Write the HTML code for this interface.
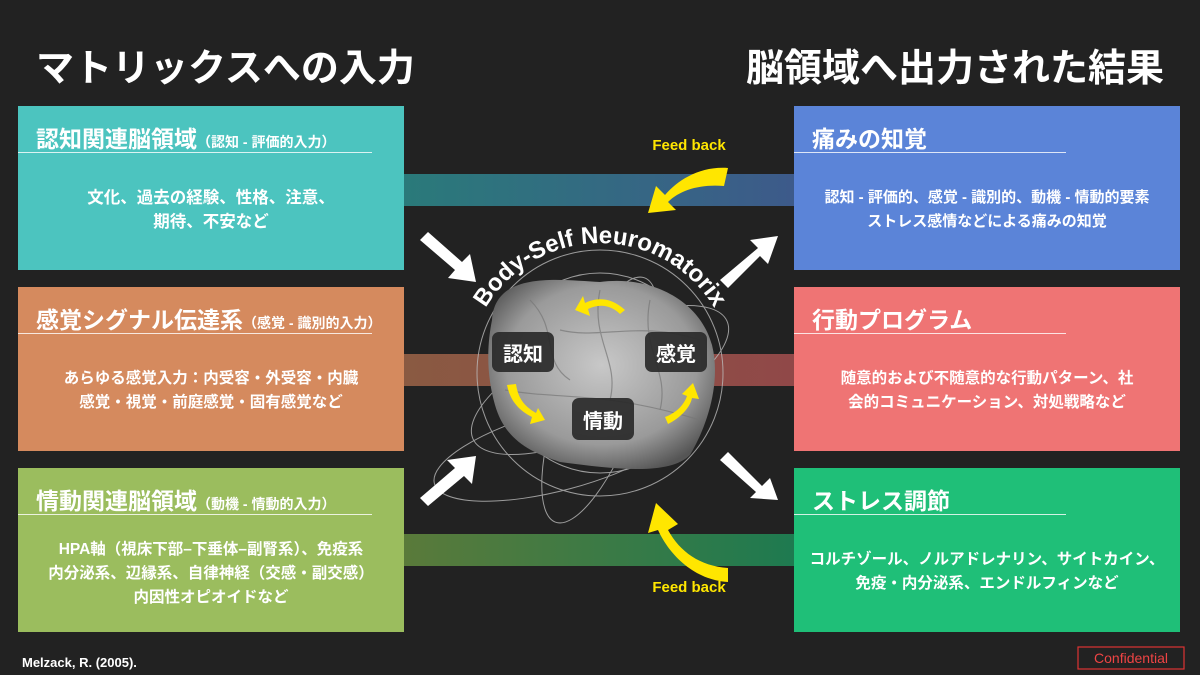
<!DOCTYPE html>
<html><head><meta charset="utf-8"><style>
body{margin:0;background:#222;}
#c{position:relative;width:1200px;height:675px;background:#222;overflow:hidden;font-family:"Liberation Sans","Noto Sans CJK JP",sans-serif;color:#fff;}
.t{position:absolute;top:44px;font-size:38px;font-weight:bold;line-height:50px;}
.box{position:absolute;width:386px;height:164px;}
.box h3{margin:0;position:absolute;left:18px;top:14px;font-size:23px;font-weight:bold;white-space:nowrap;}
.box h3 small{font-size:14px;}
.box .ln{position:absolute;left:0;top:46px;width:354px;height:1px;background:rgba(255,255,255,.8);}
.box p{position:absolute;left:0;right:0;top:80px;margin:0;text-align:center;font-size:16.5px;line-height:24px;font-weight:bold;}
.band{position:absolute;left:403px;width:391px;height:32px;}
</style></head><body><div id="c">
<div class="t" style="left:36px">マトリックスへの入力</div>
<div class="t" style="left:746px">脳領域へ出力された結果</div>

<div class="band" style="top:174px;background:linear-gradient(90deg,#2a7a7a,#3d5a8a)"></div>
<div class="band" style="top:354px;background:linear-gradient(90deg,#8a5a42,#904848)"></div>
<div class="band" style="top:534px;background:linear-gradient(90deg,#5a7a3a,#1e7a50)"></div>

<div class="box" style="left:18px;top:106px;background:#4cc4bf"><h3>認知関連脳領域<small>（認知 - 評価的入力）</small></h3><div class="ln"></div><p>文化、過去の経験、性格、注意、<br>期待、不安など</p></div>
<div class="box" style="left:18px;top:287px;background:#d58a5e"><h3>感覚シグナル伝達系<small>（感覚 - 識別的入力）</small></h3><div class="ln"></div><p style="font-size:15.5px">あらゆる感覚入力：内受容・外受容・内臓<br>感覚・視覚・前庭感覚・固有感覚など</p></div>
<div class="box" style="left:18px;top:468px;background:#9bbd5e"><h3>情動関連脳領域<small>（動機 - 情動的入力）</small></h3><div class="ln"></div><p style="top:70px;font-size:15.5px">HPA軸（視床下部–下垂体–副腎系）、免疫系<br>内分泌系、辺縁系、自律神経（交感・副交感）<br>内因性オピオイドなど</p></div>

<div class="box" style="left:794px;top:106px;background:#5b84d8"><h3>痛みの知覚</h3><div class="ln" style="width:272px"></div><p style="font-size:15px">認知 - 評価的、感覚 - 識別的、動機 - 情動的要素<br>ストレス感情などによる痛みの知覚</p></div>
<div class="box" style="left:794px;top:287px;background:#ef7474"><h3>行動プログラム</h3><div class="ln" style="width:272px"></div><p style="font-size:15.5px">随意的および不随意的な行動パターン、社<br>会的コミュニケーション、対処戦略など</p></div>
<div class="box" style="left:794px;top:468px;background:#1fbf78"><h3>ストレス調節</h3><div class="ln" style="width:272px"></div><p style="font-size:15.5px">コルチゾール、ノルアドレナリン、サイトカイン、<br>免疫・内分泌系、エンドルフィンなど</p></div>

<svg width="1200" height="675" style="position:absolute;left:0;top:0">
<defs>
<radialGradient id="br" cx="50%" cy="45%" r="60%"><stop offset="0" stop-color="#c8c8c8"/><stop offset="0.7" stop-color="#9a9a9a"/><stop offset="1" stop-color="#555"/></radialGradient>
<path id="arc" d="M472,340 A133,133 0 0 1 728,340"/>
</defs>
<g fill="none" stroke="#bbb" stroke-width="1" opacity="0.8">
<circle cx="600" cy="373" r="123"/>
<circle cx="600" cy="373" r="100"/>
<ellipse cx="560" cy="450" rx="130" ry="40" transform="rotate(-15 560 450)"/>
<ellipse cx="600" cy="400" rx="40" ry="130" transform="rotate(20 600 400)"/>
<ellipse cx="600" cy="380" rx="140" ry="50" transform="rotate(-25 600 380)"/>
</g>
<path d="M492,320 C495,270 560,280 600,282 C650,275 700,300 712,345 C722,385 705,430 690,455 C670,475 620,470 560,462 C530,452 505,440 495,405 C485,370 488,340 492,320Z" fill="url(#br)"/>
<g stroke="#777" stroke-width="1.2" fill="none" opacity="0.7">
<path d="M530,300 C560,330 540,360 570,380"/><path d="M600,290 C590,340 620,360 610,400"/><path d="M650,300 C640,350 670,370 660,410"/><path d="M505,390 C560,400 600,390 700,420"/><path d="M560,330 C600,340 640,320 700,340"/>
</g>
<text font-family="Liberation Sans,sans-serif" font-weight="bold" font-size="24" fill="#fff" text-anchor="middle"><textPath href="#arc" startOffset="50%">Body-Self Neuromatorix</textPath></text>
<rect x="492" y="332" width="62" height="40" rx="7" fill="#2a2a2a" opacity="0.92"/>
<text x="523" y="361" text-anchor="middle" font-size="20" font-weight="bold" fill="#fff" font-family="Noto Sans CJK JP,sans-serif">認知</text>
<rect x="645" y="332" width="62" height="40" rx="7" fill="#2a2a2a" opacity="0.92"/>
<text x="676" y="361" text-anchor="middle" font-size="20" font-weight="bold" fill="#fff" font-family="Noto Sans CJK JP,sans-serif">感覚</text>
<rect x="572" y="398" width="62" height="42" rx="7" fill="#2a2a2a" opacity="0.92"/>
<text x="603" y="428" text-anchor="middle" font-size="20" font-weight="bold" fill="#fff" font-family="Noto Sans CJK JP,sans-serif">情動</text>
<g fill="#ffe600">
<path d="M625,310 C610,296 595,298 585,303 L583,296 L575,310 L590,316 L588,309 C598,304 610,304 620,314Z"/>
<path d="M507,385 C510,400 518,410 532,417 L530,424 L545,420 L538,408 L536,413 C524,406 518,398 516,384Z"/>
<path d="M668,424 C680,418 690,408 692,398 L699,399 L693,383 L682,394 L687,396 C684,405 676,413 665,417Z"/>
<path d="M728,168 C700,166 678,180 665,195 L656,186 L648,213 L676,210 L668,202 C680,190 700,184 724,186Z"/>
<path d="M728,568 C700,566 680,552 668,530 L678,524 L656,503 L648,533 L658,530 C670,556 695,580 728,582Z"/>
</g>
<text x="689" y="150" text-anchor="middle" font-size="15" font-weight="bold" fill="#ffe600" font-family="Liberation Sans,sans-serif">Feed back</text>
<text x="689" y="592" text-anchor="middle" font-size="15" font-weight="bold" fill="#ffe600" font-family="Liberation Sans,sans-serif">Feed back</text>
<g fill="#fff">
<path d="M420,240 L428,232 L462,262 L470,254 L476,282 L448,278 L455,270Z"/>
<path d="M428,506 L420,498 L455,468 L447,460 L476,456 L472,484 L464,476Z"/>
<path d="M720,280 L728,288 L760,256 L768,264 L778,236 L750,240 L758,248Z"/>
<path d="M720,460 L728,452 L762,486 L770,478 L778,500 L750,498 L756,492Z"/>
</g>
<text x="22" y="667" font-size="13" font-weight="bold" fill="#fff" font-family="Liberation Sans,sans-serif">Melzack, R. (2005).</text>
<rect x="1078" y="647" width="106" height="22" fill="none" stroke="#d33" stroke-width="1.2"/>
<text x="1131" y="663" text-anchor="middle" font-size="14" fill="#e44" font-family="Liberation Sans,sans-serif">Confidential</text>
</svg>
</div></body></html>
